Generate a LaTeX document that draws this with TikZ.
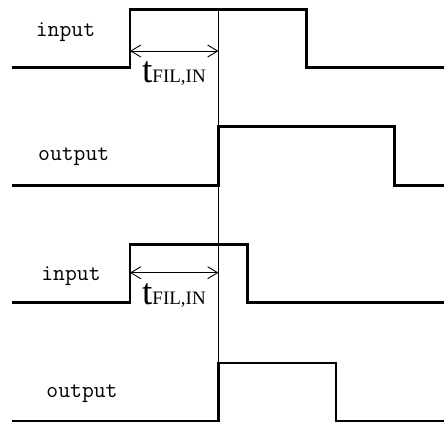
\documentclass[tikz,border=0pt]{standalone}
\usepackage{fontspec}
\newfontfamily\tfont{Liberation Serif}
\usetikzlibrary{arrows.meta}
\tikzset{
  wave/.style={line width=2.6bp, line join=miter},
  guide/.style={line width=1bp},
  dim/.style={line width=0.9bp, {Straight Barb[length=10bp,width=12bp]}-{Straight Barb[length=10bp,width=12bp]}},
  sig/.style={anchor=base, inner sep=0pt, font=\ttfamily\fontsize{23bp}{24bp}\selectfont},
  tlab/.style={anchor=base west, inner sep=0pt, font=\tfont}
}
\begin{document}
\begin{tikzpicture}[x=1bp,y=-1bp]
\useasboundingbox (0,0) rectangle (444,423);
% waveforms
\draw[wave] (12,67.7) -- (130,67.7) -- (130,9.3) -- (306.7,9.3) -- (306.7,67.7) -- (444,67.7);
\draw[wave] (12,185.3) -- (218.5,185.3) -- (218.5,126.7) -- (394.7,126.7) -- (394.7,185.3) -- (444,185.3);
\draw[wave] (12,302.7) -- (130,302.7) -- (130,244.3) -- (247.7,244.3) -- (247.7,302.7) -- (444,302.7);
\draw[wave] (12,421) -- (218.5,421) -- (218.5,363) -- (336,363) -- (336,421) -- (444,421);
% guide line
\coordinate (gtop) at (218.5,9.3);
\coordinate (gbot) at (218.5,421);
\draw[guide] (gtop) -- (gbot);
% dimension arrows
\coordinate (a1) at (130,51);
\coordinate (b1) at (218.5,51);
\coordinate (a2) at (130,272.7);
\coordinate (b2) at (218.5,272.7);
\draw[dim] (a1) -- (b1);
\draw[dim] (a2) -- (b2);
% labels
\node[sig] (in1) at (65.5,36.7) {input};
\node[sig] (out1) at (73.7,160) {output};
\node[sig] (in2) at (71,280.7) {input};
\node[sig] (out2) at (82,397) {output};
\node[tlab] (t1) at (142,82) {\fontsize{37bp}{37bp}\selectfont t\fontsize{19bp}{19bp}\selectfont FIL,IN};
\node[tlab] (t2) at (142,304) {\fontsize{37bp}{37bp}\selectfont t\fontsize{19bp}{19bp}\selectfont FIL,IN};
\end{tikzpicture}
\end{document}
